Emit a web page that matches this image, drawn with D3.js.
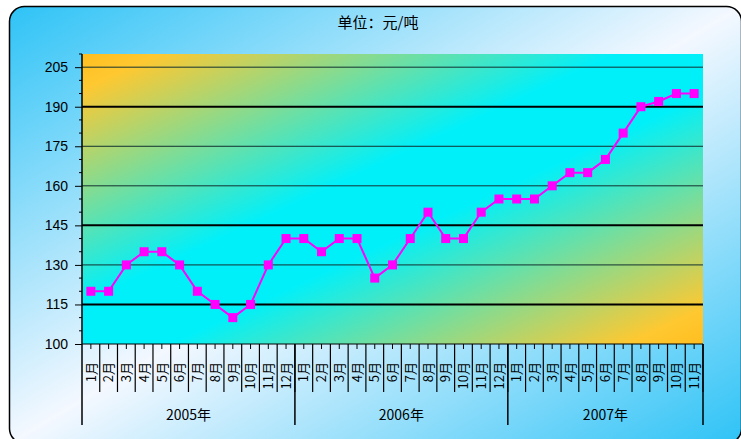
<!DOCTYPE html>
<html><head><meta charset="utf-8">
<script src="https://cdn.jsdelivr.net/npm/d3@7"></script>
<style>body{margin:0;background:#fff;}svg{display:block;}</style>
</head><body>
<script>
const title = "单位：元/吨";
const years = ["2005年", "2006年", "2007年"];
const monthsPerYear = [12, 12, 11];
const prices2005 = [120, 120, 130, 135, 135, 130, 120, 115, 110, 115, 130, 140];
const prices2006 = [140, 135, 140, 140, 125, 130, 140, 150, 140, 140, 150, 155];
const prices2007 = [155, 155, 160, 165, 165, 170, 180, 190, 192, 195, 195];
const yTicks = [100, 115, 130, 145, 160, 175, 190, 205];
const thickGrid = [115, 145, 190];

const W = 741, H = 439;
const m = {left: 82, right: 703, top: 54, bottom: 344};
const svg = d3.select("body").append("svg").attr("width", W).attr("height", H);
const defs = svg.append("defs");

const bg = defs.append("linearGradient").attr("id", "bg")
  .attr("x1", 0).attr("y1", 0).attr("x2", 1).attr("y2", 1);
bg.append("stop").attr("offset", 0).attr("stop-color", "#2ec3f6");
bg.append("stop").attr("offset", 0.5).attr("stop-color", "#f4f8ff");
bg.append("stop").attr("offset", 1).attr("stop-color", "#2ec3f6");

const pg = defs.append("linearGradient").attr("id", "pg")
  .attr("x1", 0).attr("y1", 0).attr("x2", 1).attr("y2", 1);
pg.append("stop").attr("offset", 0).attr("stop-color", "#ffbe20");
pg.append("stop").attr("offset", 0.06).attr("stop-color", "#ffc830");
pg.append("stop").attr("offset", 0.43).attr("stop-color", "#00f0fa");
pg.append("stop").attr("offset", 0.57).attr("stop-color", "#00f0fa");
pg.append("stop").attr("offset", 0.94).attr("stop-color", "#ffc830");
pg.append("stop").attr("offset", 1).attr("stop-color", "#ffbe20");

svg.append("rect").attr("x", 9.5).attr("y", 6.5).attr("width", 732).attr("height", 437)
  .attr("rx", 15).attr("fill", "url(#bg)").attr("stroke", "#000").attr("stroke-width", 1.5);

// data
const data = [];
[prices2005, prices2006, prices2007].forEach((arr, yi) => {
  arr.forEach((v, mi) => data.push({year: yi, month: mi + 1, value: v, key: yi + "-" + (mi + 1)}));
});

const x = d3.scaleBand().domain(data.map(d => d.key)).range([m.left, m.right]).paddingInner(0).paddingOuter(0);
const y = d3.scaleLinear().domain([100, 210]).range([m.bottom, m.top]);

svg.append("rect").attr("x", m.left).attr("y", m.top)
  .attr("width", m.right - m.left).attr("height", m.bottom - m.top).attr("fill", "url(#pg)");

// grid
svg.append("g").selectAll("line").data(yTicks.filter(t => t > 100)).join("line")
  .attr("x1", m.left).attr("x2", m.right)
  .attr("y1", d => y(d)).attr("y2", d => y(d))
  .attr("stroke", d => thickGrid.includes(d) ? "#000" : "#123030")
  .attr("stroke-width", d => thickGrid.includes(d) ? 2 : 1);

// y axis
const yAxis = d3.axisLeft(y).tickValues(yTicks).tickSize(7).tickPadding(7);
const ya = svg.append("g").attr("transform", `translate(${m.left},0)`).call(yAxis);
ya.select(".domain").remove();
ya.selectAll("text").attr("font-family", "'Liberation Sans', Arial, sans-serif").attr("font-size", 14).attr("fill", "#000");
ya.selectAll("line").attr("stroke", "#000");
const minor = d3.range(100, 211, 5).filter(v => !yTicks.includes(v));
svg.append("g").selectAll("line").data(minor).join("line")
  .attr("x1", m.left - 3).attr("x2", m.left).attr("y1", d => y(d)).attr("y2", d => y(d))
  .attr("stroke", "#000");
svg.append("line").attr("x1", m.left).attr("x2", m.left).attr("y1", m.top).attr("y2", m.bottom).attr("stroke", "#000").attr("stroke-width", 1.5);

// x axis
svg.append("line").attr("x1", m.left).attr("x2", m.right).attr("y1", m.bottom).attr("y2", m.bottom).attr("stroke", "#000");
const xg = svg.append("g");
xg.selectAll("line.c").data(data).join("line").attr("class", "c")
  .attr("x1", d => x(d.key) + x.bandwidth() / 2).attr("x2", d => x(d.key) + x.bandwidth() / 2)
  .attr("y1", m.bottom).attr("y2", m.bottom + 5).attr("stroke", "#000");
xg.selectAll("line.b").data(data).join("line").attr("class", "b")
  .attr("x1", d => x(d.key) + x.bandwidth()).attr("x2", d => x(d.key) + x.bandwidth())
  .attr("y1", m.bottom).attr("y2", m.bottom + 48).attr("stroke", "#000").attr("stroke-width", 1.2);
xg.selectAll("text.m").data(data).join("text").attr("class", "m")
  .attr("transform", d => `translate(${x(d.key) + x.bandwidth() / 2},${m.bottom + 18}) rotate(-90)`)
  .attr("text-anchor", "end").attr("dy", "0.36em")
  .attr("font-family", "'Noto Sans CJK SC', sans-serif").attr("font-size", 13).attr("fill", "#000")
  .text(d => d.month + "月");

// year groups
let start = 0;
const yearPos = monthsPerYear.map((n, i) => {
  const a = x(data[start].key), b = x(data[start + n - 1].key) + x.bandwidth();
  start += n;
  return {label: years[i], a, b};
});
const seps = [m.left].concat(yearPos.map(d => d.b));
xg.selectAll("line.y").data(seps).join("line").attr("class", "y")
  .attr("x1", d => d).attr("x2", d => d).attr("y1", m.bottom).attr("y2", 425)
  .attr("stroke", "#000").attr("stroke-width", 1.5);
xg.selectAll("text.y").data(yearPos).join("text").attr("class", "y")
  .attr("x", d => (d.a + d.b) / 2).attr("y", 420).attr("text-anchor", "middle")
  .attr("font-family", "'Noto Sans CJK SC', sans-serif").attr("font-size", 14).attr("fill", "#000")
  .text(d => d.label);

// line & markers
const line = d3.line().x(d => x(d.key) + x.bandwidth() / 2).y(d => y(d.value));
svg.append("path").datum(data).attr("d", line).attr("fill", "none")
  .attr("stroke", "#ff00ff").attr("stroke-width", 2);
svg.append("g").selectAll("rect").data(data).join("rect")
  .attr("x", d => x(d.key) + x.bandwidth() / 2 - 4.5).attr("y", d => y(d.value) - 4.5)
  .attr("width", 9).attr("height", 9).attr("fill", "#ff00ff");

// title
svg.append("text").attr("x", 378).attr("y", 28).attr("text-anchor", "middle")
  .attr("font-family", "'Noto Sans CJK SC', sans-serif").attr("font-size", 15).attr("fill", "#000")
  .text(title);
</script>
</body></html>
